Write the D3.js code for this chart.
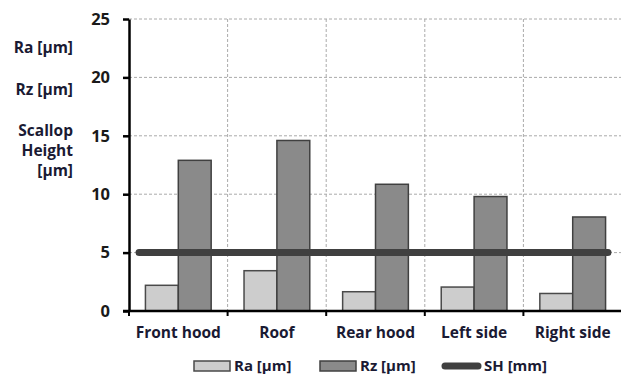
<!DOCTYPE html>
<html>
<head>
<meta charset="utf-8">
<script src="https://cdn.jsdelivr.net/npm/d3@7"></script>
<style>
  body { margin: 0; background: #fff; }
  text { font-family: "Open Sans", Lato, sans-serif; font-weight: bold; }
</style>
</head>
<body>
<svg id="chart" width="621" height="376"></svg>
<script>
// data
var categories = ["Front hood", "Roof", "Rear hood", "Left side", "Right side"]
var raValues = [2.2, 3.45, 1.65, 2.05, 1.5]
var rzValues = [12.9, 14.6, 10.85, 9.8, 8.05]
var shValue = 5
var yTicks = [0, 5, 10, 15, 20, 25]
var seriesNames = ["Ra [µm]", "Rz [µm]", "SH [mm]"]

var svg = d3.select("#chart")
var margin = {top: 19, left: 129, bottom: 311, right: 622}

var x = d3.scaleBand()
    .domain(categories)
    .range([margin.left, margin.right])
    .paddingInner(0).paddingOuter(0)

var sub = d3.scaleBand()
    .domain(["ra", "rz"])
    .range([x.bandwidth() / 6, x.bandwidth() * 5 / 6])

var y = d3.scaleLinear()
    .domain([0, 25])
    .range([margin.bottom, margin.top])

// grid
var grid = svg.append("g")
grid.selectAll(".hgrid")
    .data(yTicks.filter(function (d) { return d > 0 }))
    .enter().append("line")
    .attr("x1", margin.left).attr("x2", margin.right)
    .attr("y1", function (d) { return y(d) }).attr("y2", function (d) { return y(d) })
    .attr("stroke", "#aaa").attr("stroke-width", 1).attr("stroke-dasharray", "3,2")
grid.selectAll(".vgrid")
    .data(categories.slice(1).concat(["__end"]))
    .enter().append("line")
    .attr("x1", function (d, i) { return margin.left + x.bandwidth() * (i + 1) })
    .attr("x2", function (d, i) { return margin.left + x.bandwidth() * (i + 1) })
    .attr("y1", margin.top).attr("y2", margin.bottom)
    .attr("stroke", "#aaa").attr("stroke-width", 1).attr("stroke-dasharray", "3,2")

// bars
var groups = svg.append("g").selectAll("g")
    .data(categories)
    .enter().append("g")
    .attr("transform", function (d) { return "translate(" + x(d) + ",0)" })

groups.append("rect")
    .attr("x", sub("ra"))
    .attr("width", sub.bandwidth())
    .attr("y", function (d, i) { return y(raValues[i]) })
    .attr("height", function (d, i) { return y(0) - y(raValues[i]) })
    .attr("fill", "#cdcdcd").attr("stroke", "#4a4a4a").attr("stroke-width", 1.5)

groups.append("rect")
    .attr("x", sub("rz"))
    .attr("width", sub.bandwidth())
    .attr("y", function (d, i) { return y(rzValues[i]) })
    .attr("height", function (d, i) { return y(0) - y(rzValues[i]) })
    .attr("fill", "#8a8a8a").attr("stroke", "#404040").attr("stroke-width", 1.5)

// SH line
svg.append("line")
    .attr("x1", margin.left + 10).attr("x2", margin.right - 14)
    .attr("y1", y(shValue)).attr("y2", y(shValue))
    .attr("stroke", "#404040").attr("stroke-width", 7).attr("stroke-linecap", "round")

// y axis
var yAxis = d3.axisLeft(y).tickValues(yTicks).tickSize(6).tickSizeOuter(0).tickPadding(13)
var ya = svg.append("g")
    .attr("transform", "translate(" + margin.left + ",0)")
    .call(yAxis)
ya.select(".domain").attr("stroke", "#000").attr("stroke-width", 2.5)
ya.selectAll(".tick line").attr("stroke", "#000").attr("stroke-width", 2.5)
ya.selectAll(".tick text").attr("font-size", 16.5).attr("fill", "#1a1a1a")
    .attr("font-family", "'Open Sans', sans-serif").attr("font-weight", "bold")

// x axis
var xa = svg.append("g")
    .attr("transform", "translate(0," + margin.bottom + ")")
xa.append("line")
    .attr("x1", margin.left - 6).attr("x2", margin.right)
    .attr("stroke", "#000").attr("stroke-width", 2.5)
xa.selectAll(".xtick")
    .data(categories.concat(["__end"]))
    .enter().append("line")
    .attr("x1", function (d, i) { return margin.left + x.bandwidth() * i })
    .attr("x2", function (d, i) { return margin.left + x.bandwidth() * i })
    .attr("y1", 0).attr("y2", 5)
    .attr("stroke", "#000").attr("stroke-width", 2)
xa.selectAll(".xlabel")
    .data(categories)
    .enter().append("text")
    .attr("x", function (d) { return x(d) + x.bandwidth() / 2 })
    .attr("y", 27)
    .attr("text-anchor", "middle")
    .attr("font-size", 15.5)
    .attr("fill", "#1a1a33")
    .text(function (d) { return d })

// left side titles
var titles = [["Ra [µm]", 53], ["Rz [µm]", 95], ["Scallop", 136], ["Height", 156], ["[µm]", 176]]
svg.append("g").selectAll("text")
    .data(titles)
    .enter().append("text")
    .attr("x", 73).attr("y", function (d) { return d[1] })
    .attr("text-anchor", "end")
    .attr("font-size", 15.5)
    .attr("fill", "#1a1a33")
    .text(function (d) { return d[0] })

// legend
var legend = svg.append("g").attr("transform", "translate(0,366)")
legend.append("rect").attr("x", 194).attr("y", -5).attr("width", 36).attr("height", 10)
    .attr("fill", "#cdcdcd").attr("stroke", "#4a4a4a").attr("stroke-width", 1.5)
legend.append("rect").attr("x", 320).attr("y", -5).attr("width", 36).attr("height", 10)
    .attr("fill", "#8a8a8a").attr("stroke", "#404040").attr("stroke-width", 1.5)
legend.append("line").attr("x1", 445).attr("x2", 478)
    .attr("stroke", "#404040").attr("stroke-width", 7).attr("stroke-linecap", "round")
legend.selectAll(".lt")
    .data(seriesNames)
    .enter().append("text")
    .attr("x", function (d, i) { return [234, 360, 484][i] })
    .attr("y", 5)
    .attr("font-size", 15)
    .attr("fill", "#1a1a33")
    .text(function (d) { return d })
</script>
</body>
</html>
